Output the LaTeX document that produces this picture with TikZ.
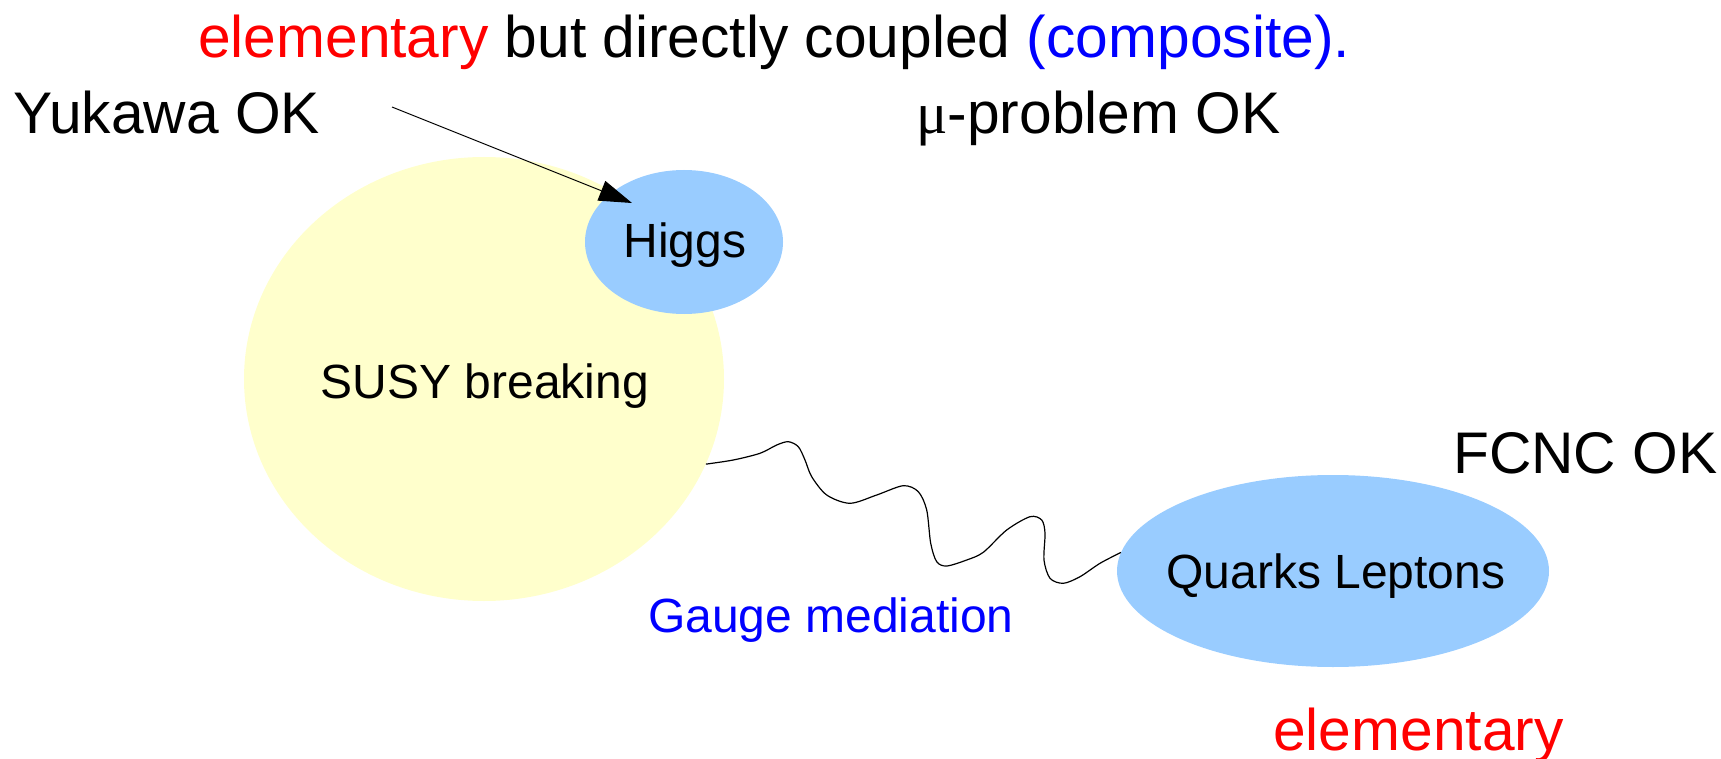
\documentclass[tikz,border=0pt]{standalone}
\usepackage{fontspec}
\setmainfont{Liberation Sans}
\newfontfamily\serifmu{Liberation Serif}
\usetikzlibrary{shapes.geometric,arrows.meta}
\definecolor{bgyellow}{HTML}{FFFFCC}
\definecolor{bgblue}{HTML}{99CCFF}
\definecolor{txtred}{HTML}{FF0000}
\definecolor{txtblue}{HTML}{0000FF}
\tikzset{
  blob/.style={ellipse, inner sep=0pt, draw=none},
  bigtxt/.style={anchor=base west, inner sep=0pt, font=\fontsize{58.7}{63}\selectfont},
  smalltxt/.style={inner sep=0pt, font=\fontsize{48}{52}\selectfont, text height=34pt, text depth=0pt},
  smalltxtw/.style={anchor=base west, inner sep=0pt, font=\fontsize{48}{52}\selectfont},
}
\begin{document}
\begin{tikzpicture}[x=1pt,y=-1pt]
\useasboundingbox (0,0) rectangle (1721,759);
% blobs
\node[blob, fill=bgyellow, minimum width=480pt, minimum height=444pt] (susy) at (484,379) {};
\node[blob, fill=bgblue, minimum width=198pt, minimum height=144pt] (higgs) at (684,242) {};
\node[blob, fill=bgblue, minimum width=432pt, minimum height=192pt] (quarks) at (1333,571) {};
\node[smalltxt] (susyt) at (485,381) {SUSY breaking};
\node[smalltxt] (higgst) at (685,241) {Higgs};
\node[smalltxt] (quarkst) at (1336,571) {Quarks Leptons};
% texts
\node[bigtxt] (title) at (198,58) {\textcolor{txtred}{elementary} but directly coupled \textcolor{txtblue}{(composite).}};
\node[bigtxt] (yukawa) at (13,134) {Yukawa OK};
\node[bigtxt] (mu) at (916,134) {{\serifmu μ}-problem OK};
\node[bigtxt] (fcnc) at (1453,473) {FCNC OK};
\node[bigtxt, text=txtred] (elem) at (1273,750) {elementary};
\node[smalltxtw, text=txtblue] (gauge) at (648,632) {Gauge mediation};
% arrow
\coordinate (ystart) at (392,107);
\coordinate (htip) at (632,203);
\draw[line width=1pt, -{Triangle[length=33pt,width=21pt]}] (ystart) -- (htip);
% wiggly gauge line
\draw[line width=1.2pt] plot[smooth, tension=0.5] coordinates {
 (susy.-21.3) (733.3,460) (760,453.3) (776.7,445) (788.3,441.7) (798.3,446.7)
 (805,460) (811.7,476.7) (826.7,495) (850,503.3) (876.7,495) (903.3,485.7)
 (918.3,491.7) (926.7,510) (930.7,543.3) (936.7,561.7) (946.7,566) (966.7,560)
 (983.3,552.3) (1006.7,530) (1030,516.7) (1041.7,520) (1045,533.3) (1044,560)
 (1050,578.3) (1063.3,583.3) (1080,576.7) (1100,563.3) (quarks.175)};
\end{tikzpicture}
\end{document}
